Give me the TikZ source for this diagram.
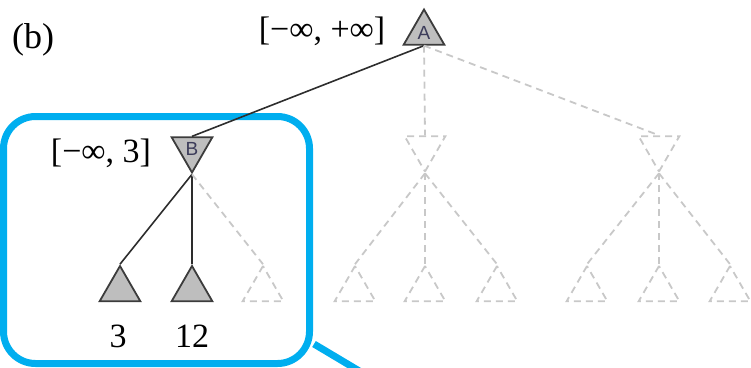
\documentclass[tikz,border=0pt]{standalone}
\usepackage{fontspec}
\setmainfont{Liberation Serif}
\newfontfamily\lblfont{Liberation Sans}
\usetikzlibrary{shapes.geometric}
\definecolor{boxblue}{RGB}{0,174,239}
\definecolor{tfill}{RGB}{190,190,190}
\definecolor{tdraw}{RGB}{60,60,60}
\definecolor{ghost}{RGB}{200,200,200}
\definecolor{edgecol}{RGB}{45,45,45}
\definecolor{lettercol}{RGB}{60,60,90}
\tikzset{
  maxnode/.style={regular polygon, regular polygon sides=3, minimum size=47pt, inner sep=0pt,
    draw=tdraw, fill=tfill, line width=1.8pt, font=\lblfont\fontsize{19}{19}\selectfont, text=lettercol},
  minnode/.style={maxnode, shape border rotate=180},
  ghostmax/.style={regular polygon, regular polygon sides=3, minimum size=47pt, inner sep=0pt,
    draw=ghost, line width=1.8pt, dash pattern=on 7pt off 5pt},
  ghostmin/.style={ghostmax, shape border rotate=180},
  treeedge/.style={draw=edgecol, line width=1.6pt},
  ghostedge/.style={draw=ghost, line width=1.8pt, dash pattern=on 7pt off 5pt},
  lbl/.style={font=\fontsize{34}{36}\selectfont, inner sep=0pt},
  callout/.style={draw=boxblue, line width=7pt}
}
\begin{document}
\begin{tikzpicture}[x=1pt,y=-1pt]
\useasboundingbox (0,0) rectangle (751,367);
\clip (0,0) rectangle (751,367);
% blue callout box
\draw[callout, rounded corners=32pt] (3.5,116.5) rectangle (309.5,363.5);
\draw[callout] (314,344) -- (366,375);
% nodes
\node[maxnode] (A) at (424,33) {\raisebox{-2pt}{A}};
\node[minnode] (B) at (192,149) {\raisebox{-3pt}{B}};
\node[ghostmin] (C) at (425,148) {};
\node[ghostmin] (D) at (659,148) {};
\node[maxnode] (b1) at (120,289.5) {};
\node[maxnode] (b2) at (192,289.5) {};
\node[ghostmax] (b3) at (263,289.5) {};
\node[ghostmax] (c1) at (355,289.5) {};
\node[ghostmax] (c2) at (425,289.5) {};
\node[ghostmax] (c3) at (497,289.5) {};
\node[ghostmax] (d1) at (587,289.5) {};
\node[ghostmax] (d2) at (659,289.5) {};
\node[ghostmax] (d3) at (730,289.5) {};
% edges
\draw[treeedge] (A.south) -- (B.north);
\draw[ghostedge] (A.south) -- (C.north);
\draw[ghostedge] (A.south) -- (D.north);
\draw[treeedge] (B.south) -- (b1.north);
\draw[treeedge] (B.south) -- (b2.north);
\draw[ghostedge] (B.south) -- (b3.north);
\draw[ghostedge] (C.south) -- (c1.north);
\draw[ghostedge] (C.south) -- (c2.north);
\draw[ghostedge] (C.south) -- (c3.north);
\draw[ghostedge] (D.south) -- (d1.north);
\draw[ghostedge] (D.south) -- (d2.north);
\draw[ghostedge] (D.south) -- (d3.north);
% labels
\node[lbl] (la) at (322,31) {[−∞, +∞]};
\node[lbl] (lb) at (101,153) {[−∞, 3]};
\node[lbl, font=\fontsize{36}{38}\selectfont] (tag) at (33,40) {(b)};
\node[lbl] (v1) at (118,336) {3};
\node[lbl] (v2) at (192,336) {12};
\end{tikzpicture}
\end{document}
